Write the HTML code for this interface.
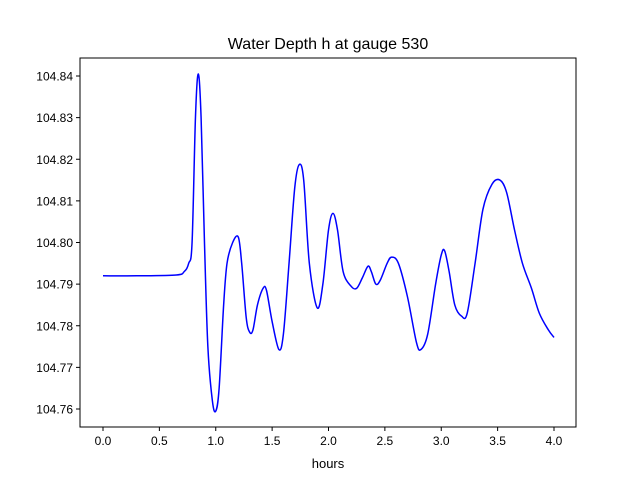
<!DOCTYPE html>
<html><head><meta charset="utf-8"><style>
body{margin:0;background:#fff}
svg{display:block;font-family:"Liberation Sans","DejaVu Sans",sans-serif}
</style></head><body>
<svg id="chart" width="640" height="480" viewBox="0 0 640 480">
<rect width="640" height="480" fill="#fff"/>
<text x="328" y="49" font-size="16" text-anchor="middle">Water Depth h at gauge 530</text>
<g id="axes"></g>
<text x="328" y="468" font-size="13" text-anchor="middle">hours</text>
</svg>
<script>
const xTicks=[0,0.5,1,1.5,2,2.5,3,3.5,4];
const xTickLabels=["0.0","0.5","1.0","1.5","2.0","2.5","3.0","3.5","4.0"];
const yTicks=[104.76,104.77,104.78,104.79,104.80,104.81,104.82,104.83,104.84];
const yTickLabels=["104.76","104.77","104.78","104.79","104.80","104.81","104.82","104.83","104.84"];
const hours=[0,0.3,0.65,0.72,0.76,0.79,0.82,0.845,0.87,0.9,0.93,0.97,1.0,1.03,1.07,1.1,1.15,1.2,1.23,1.27,1.3,1.33,1.37,1.42,1.45,1.5,1.56,1.6,1.65,1.7,1.74,1.78,1.83,1.9,1.95,2.0,2.04,2.08,2.13,2.2,2.25,2.3,2.35,2.38,2.42,2.46,2.52,2.56,2.62,2.7,2.78,2.82,2.88,2.95,3.0,3.03,3.07,3.12,3.18,3.23,3.3,3.37,3.45,3.52,3.58,3.65,3.72,3.8,3.87,3.95,4.0];
const depth=[104.792,104.792,104.7922,104.793,104.795,104.800,104.830,104.8405,104.830,104.800,104.775,104.762,104.7595,104.765,104.785,104.795,104.800,104.8013,104.795,104.782,104.7785,104.779,104.785,104.789,104.7885,104.781,104.7743,104.778,104.795,104.813,104.8187,104.815,104.795,104.7843,104.790,104.803,104.807,104.803,104.793,104.7895,104.789,104.7915,104.7943,104.793,104.790,104.791,104.795,104.7965,104.795,104.787,104.776,104.7743,104.778,104.790,104.797,104.798,104.793,104.785,104.7823,104.783,104.795,104.808,104.814,104.815,104.812,104.803,104.795,104.789,104.783,104.779,104.7772];
const L=80,R=576,T=58,B=427;
const sx=v=>103+(v-0)*(554-103)/4;
const sy=v=>409-(v-104.76)*(409-76)/0.08;
const NS="http://www.w3.org/2000/svg";
const g=document.getElementById('axes');
function mk(t,a){const e=document.createElementNS(NS,t);for(const k in a)e.setAttribute(k,a[k]);g.appendChild(e);return e;}
// line
let d="";
for(let i=0;i<hours.length;i++){
  const x=sx(hours[i]),y=sy(depth[i]);
  if(i===0){d+="M"+x+" "+y;continue;}
  const p0=i>1?[sx(hours[i-2]),sy(depth[i-2])]:[sx(hours[i-1]),sy(depth[i-1])];
  const p1=[sx(hours[i-1]),sy(depth[i-1])];
  const p3=i<hours.length-1?[sx(hours[i+1]),sy(depth[i+1])]:[x,y];
  const c1=[p1[0]+(x-p0[0])/6,p1[1]+(y-p0[1])/6];
  const c2=[x-(p3[0]-p1[0])/6,y-(p3[1]-p1[1])/6];
  d+=" C"+c1[0]+" "+c1[1]+" "+c2[0]+" "+c2[1]+" "+x+" "+y;
}
const ln=mk('path',{d:d,fill:'none',stroke:'#0000ff','stroke-width':1.5});


const fr=mk('rect',{x:L,y:T,width:R-L,height:B-T,fill:'none',stroke:'#000','stroke-width':1});


xTicks.forEach((v,i)=>{
  const x=sx(v);
  const t=mk('line',{x1:x,x2:x,y1:B,y2:B+4,stroke:'#000'});
  
  
  const l=mk('text',{x:x,y:B+18,'font-size':12,'text-anchor':'middle'});
  l.textContent=xTickLabels[i];
  
  
});
yTicks.forEach((v,i)=>{
  const y=sy(v);
  const t=mk('line',{x1:L-4,x2:L,y1:y,y2:y,stroke:'#000'});
  
  
  const l=mk('text',{x:L-7,y:y+4.5,'font-size':12,'text-anchor':'end'});
  l.textContent=yTickLabels[i];
  
  
});
</script>
</body></html>
